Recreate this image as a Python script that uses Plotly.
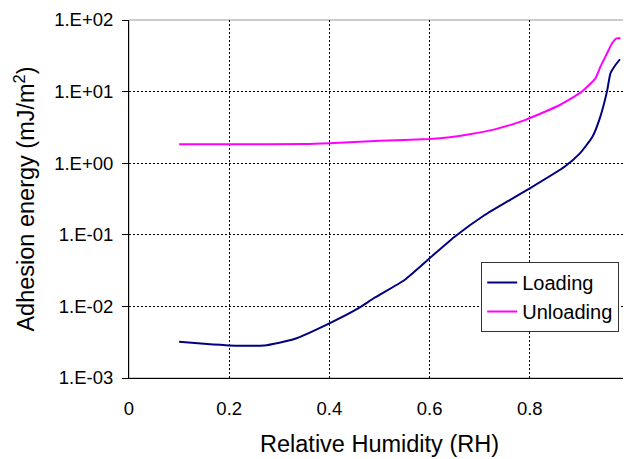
import plotly.graph_objects as go

# Loading curve (RH, adhesion energy mJ/m^2)
load_rh = [0.10, 0.15, 0.20, 0.27, 0.33, 0.40, 0.46, 0.49, 0.55, 0.60, 0.65, 0.71, 0.76, 0.80, 0.87, 0.90, 0.925, 0.94, 0.954, 0.961, 0.971, 0.980]
load_e = [3.2e-3, 3.0e-3, 2.85e-3, 2.85e-3, 3.5e-3, 5.8e-3, 9.6e-3, 1.32e-2, 2.34e-2, 4.7e-2, 9.4e-2, 0.189, 0.306, 0.446, 0.9, 1.37, 2.34, 4.3, 10.0, 18.0, 23.5, 28.3]

# Unloading curve
unload_rh = [0.10, 0.20, 0.35, 0.40, 0.50, 0.60, 0.64, 0.68, 0.73, 0.79, 0.86, 0.904, 0.931, 0.941, 0.954, 0.964, 0.973, 0.981]
unload_e = [1.84, 1.84, 1.85, 1.90, 2.06, 2.18, 2.30, 2.53, 2.97, 4.0, 6.5, 10.0, 15.3, 22.3, 34.0, 47.0, 55.5, 55.5]

y_tickvals = [1e-3, 1e-2, 1e-1, 1e0, 1e1, 1e2]
y_ticktext = ["1.E-03", "1.E-02", "1.E-01", "1.E+00", "1.E+01", "1.E+02"]
x_tickvals = [0, 0.2, 0.4, 0.6, 0.8, 1]
x_ticktext = ["0", "0.2", "0.4", "0.6", "0.8", "1"]

fig = go.Figure()
fig.add_trace(go.Scatter(x=load_rh, y=load_e, mode="lines", name="Loading",
                         line=dict(color="#000080", width=2, shape="spline", smoothing=0.5)))
fig.add_trace(go.Scatter(x=unload_rh, y=unload_e, mode="lines", name="Unloading",
                         line=dict(color="#FF00FF", width=2, shape="spline", smoothing=0.5)))

fig.update_layout(
    width=623, height=451,
    margin=dict(l=121, r=1, t=12, b=81, autoexpand=False),
    paper_bgcolor="white", plot_bgcolor="white",
    font=dict(family="Liberation Sans, Arial, sans-serif", size=18.5, color="black"),
    showlegend=True,
    legend=dict(x=0.703, y=0.324, xanchor="left", yanchor="top",
                bgcolor="white", bordercolor="#333333", borderwidth=1,
                font=dict(size=20), itemwidth=30, tracegroupgap=0),
    shapes=[dict(type="rect", xref="paper", yref="paper", x0=0, y0=0, x1=1, y1=1,
                 line=dict(color="#999999", width=1), layer="below")],
)
fig.update_xaxes(range=[0, 1], tickvals=x_tickvals, ticktext=x_ticktext,
                 showgrid=True, gridcolor="black", griddash="2px,2px", gridwidth=1,
                 showline=True, linecolor="black", linewidth=1, ticks="",
                 zeroline=False, ticklabelstandoff=14, automargin=False,
                 ticklabeloverflow="allow",
                 title=dict(text="Relative Humidity (RH)", font=dict(size=23.5), standoff=17))
fig.update_yaxes(type="log", range=[-3, 2], tickvals=y_tickvals, ticktext=y_ticktext,
                 showgrid=True, gridcolor="black", griddash="2px,2px", gridwidth=1,
                 showline=True, linecolor="black", linewidth=1,
                 ticks="outside", ticklen=6, tickcolor="black",
                 zeroline=False, automargin=False, ticklabelstandoff=5,
                 ticklabeloverflow="allow",
                 title=dict(text="Adhesion energy (mJ/m<sup>2</sup>)", font=dict(size=23.5), standoff=12))

fig.write_html("out.html")
